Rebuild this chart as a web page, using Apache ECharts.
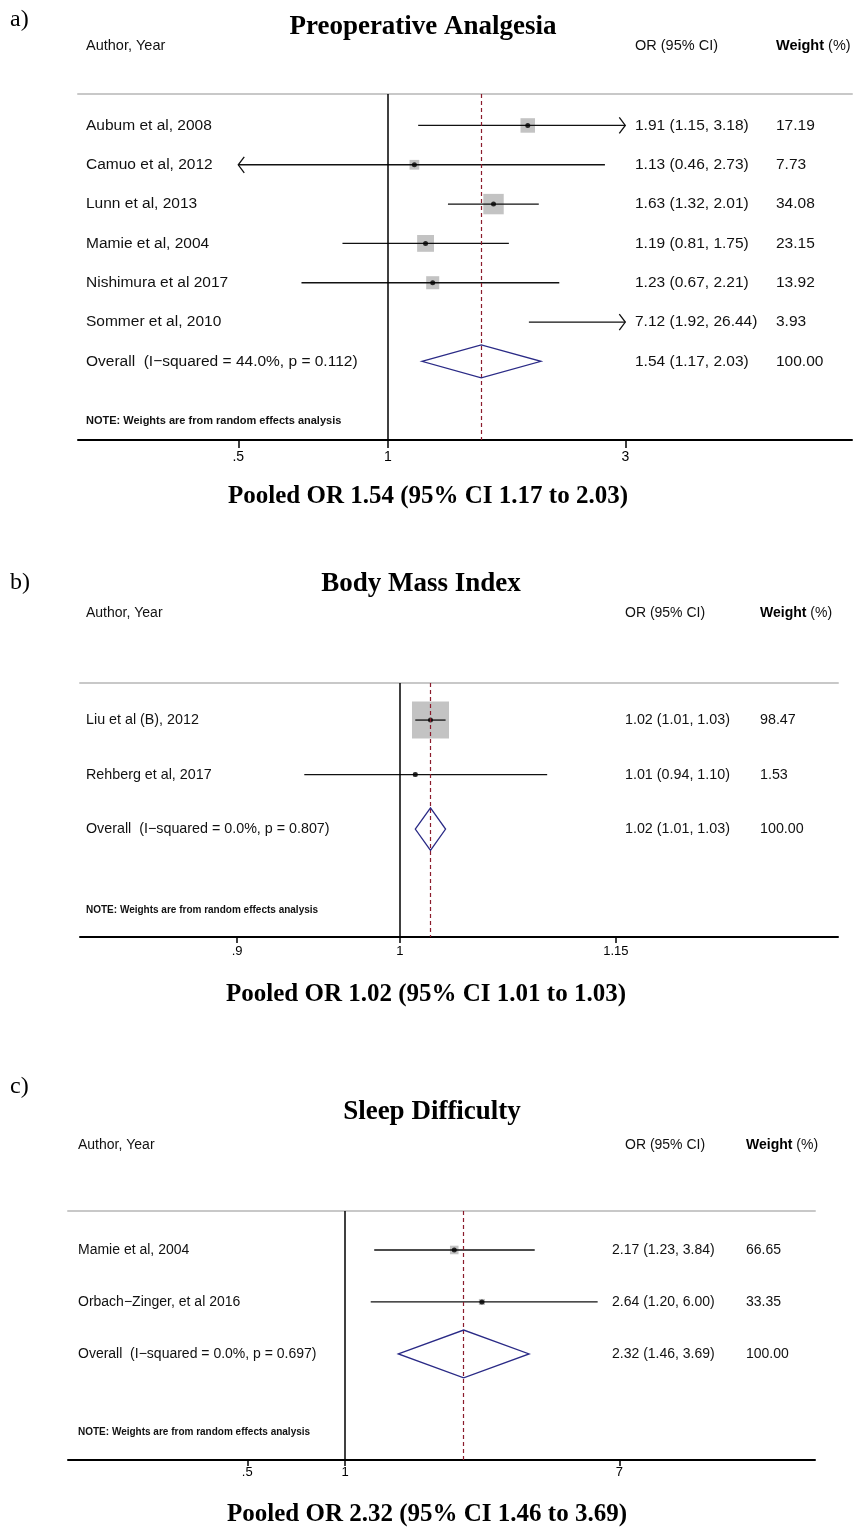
<!DOCTYPE html>
<html><head><meta charset="utf-8">
<script src="https://cdn.jsdelivr.net/npm/echarts@6/dist/echarts.min.js"></script>
<style>html,body{margin:0;padding:0;background:#fff;} #c{width:855px;height:1529px;}</style>
</head><body><div id="c"></div>
<script>
// ---------- Panel a: Preoperative Analgesia ----------
const titleA = 'Preoperative Analgesia';
const studiesA = ['Aubum et al, 2008', 'Camuo et al, 2012', 'Lunn et al, 2013', 'Mamie et al, 2004', 'Nishimura et al 2017', 'Sommer et al, 2010'];
const orA = [1.91, 1.13, 1.63, 1.19, 1.23, 7.12];
const loA = [1.15, 0.46, 1.32, 0.81, 0.67, 1.92];
const hiA = [3.18, 2.73, 2.01, 1.75, 2.21, 26.44];
const wA = [17.19, 7.73, 34.08, 23.15, 13.92, 3.93];
const pooledA = [1.54, 1.17, 2.03];
const hetA = 'Overall  (I\u2212squared = 44.0%, p = 0.112)';
const ticksA = [0.5, 1, 3];
const tickLabelsA = ['.5', '1', '3'];
const summaryA = 'Pooled OR 1.54 (95% CI 1.17 to 2.03)';

// ---------- Panel b: Body Mass Index ----------
const titleB = 'Body Mass Index';
const studiesB = ['Liu et al (B), 2012', 'Rehberg et al, 2017'];
const orB = [1.02, 1.01];
const loB = [1.01, 0.94];
const hiB = [1.03, 1.10];
const wB = [98.47, 1.53];
const pooledB = [1.02, 1.01, 1.03];
const hetB = 'Overall  (I\u2212squared = 0.0%, p = 0.807)';
const ticksB = [0.9, 1, 1.15];
const tickLabelsB = ['.9', '1', '1.15'];
const summaryB = 'Pooled OR 1.02 (95% CI 1.01 to 1.03)';

// ---------- Panel c: Sleep Difficulty ----------
const titleC = 'Sleep Difficulty';
const studiesC = ['Mamie et al, 2004', 'Orbach\u2212Zinger, et al 2016'];
const orC = [2.17, 2.64];
const loC = [1.23, 1.20];
const hiC = [3.84, 6.00];
const wC = [66.65, 33.35];
const pooledC = [2.32, 1.46, 3.69];
const hetC = 'Overall  (I\u2212squared = 0.0%, p = 0.697)';
const ticksC = [0.5, 1, 7];
const tickLabelsC = ['.5', '1', '7'];
const summaryC = 'Pooled OR 2.32 (95% CI 1.46 to 3.69)';

const noteText = 'NOTE: Weights are from random effects analysis';

// ---------- layout (positions / styles only) ----------
const layouts = [
  { letter: 'a)', letterY: 20, grid: {left: 78, top: 94, width: 774, height: 346},
    xMin: 0.2381, xMax: 8.569, yMin: 0.2, yMax: 9.0,
    colLabel: 86, colOr: 635, colW: 776, hdrOr: 635, hdrW: 776, headerY: 46, titleX: 423, titleY: 27,
    sumX: 428, sumY: 497, noteY: 421, noteFs: 11, boxK: 3.5, dHalf: 0.42, fs: 15.5, hfs: 14.5,
    tickLen: 8, labMargin: 10, tfs: 14 },
  { letter: 'b)', letterY: 583, grid: {left: 80, top: 683, width: 758, height: 254},
    xMin: 0.8130, xMax: 1.3278, yMin: 0.32, yMax: 4.98,
    colLabel: 86, colOr: 625, colW: 760, hdrOr: 625, hdrW: 760, headerY: 613, titleX: 421, titleY: 584,
    sumX: 426, sumY: 995, noteY: 910, noteFs: 10, boxK: 3.73, dHalf: 0.39, fs: 14.3, hfs: 14,
    tickLen: 6, labMargin: 8, tfs: 13 },
  { letter: 'c)', letterY: 1087, grid: {left: 68, top: 1211, width: 747, height: 249},
    xMin: 0.1402, xMax: 28.03, yMin: 0.25, yMax: 5.04,
    colLabel: 78, colOr: 612, colW: 746, hdrOr: 625, hdrW: 746, headerY: 1145, titleX: 432, titleY: 1112,
    sumX: 427, sumY: 1515, noteY: 1432, noteFs: 10, boxK: 1.05, dHalf: 0.46, fs: 14, hfs: 14,
    tickLen: 6, labMargin: 6, tfs: 13 }
];

const panels = [
  { title: titleA, studies: studiesA, or: orA, lo: loA, hi: hiA, w: wA, pooled: pooledA, het: hetA, ticks: ticksA, tickLabels: tickLabelsA, summary: summaryA },
  { title: titleB, studies: studiesB, or: orB, lo: loB, hi: hiB, w: wB, pooled: pooledB, het: hetB, ticks: ticksB, tickLabels: tickLabelsB, summary: summaryB },
  { title: titleC, studies: studiesC, or: orC, lo: loC, hi: hiC, w: wC, pooled: pooledC, het: hetC, ticks: ticksC, tickLabels: tickLabelsC, summary: summaryC }
];

const SANS = '"Liberation Sans", Arial, sans-serif';
const SERIF = '"Liberation Serif", "Times New Roman", serif';
const fmt = v => v.toFixed(2);

const option = { animation: false, backgroundColor: '#fff', grid: [], xAxis: [], yAxis: [], series: [], graphic: [] };

panels.forEach((D, pi) => {
  const L = layouts[pi];
  const clipLo = D.ticks[0], clipHi = D.ticks[D.ticks.length - 1];
  const n = D.studies.length;
  const overallRow = n + 1;

  option.grid.push(Object.assign({}, L.grid));
  const xb = option.xAxis.length;
  option.xAxis.push({
    gridIndex: pi, type: 'log', logBase: 10, min: L.xMin, max: L.xMax, position: 'bottom',
    axisLine: { show: true, onZero: false, lineStyle: { color: '#000', width: 2 } },
    axisTick: { show: true, inside: false, length: L.tickLen, customValues: D.ticks, lineStyle: { color: '#000', width: 1.5 } },
    axisLabel: { show: true, customValues: D.ticks, margin: L.labMargin, fontSize: L.tfs, color: '#000', fontFamily: SANS,
      formatter: v => { const j = D.ticks.findIndex(t => Math.abs(t - v) < 1e-6 * Math.max(1, t)); return j >= 0 ? D.tickLabels[j] : ''; } },
    splitLine: { show: false }, minorTick: { show: false }
  });
  option.xAxis.push({
    gridIndex: pi, type: 'log', logBase: 10, min: L.xMin, max: L.xMax, position: 'top',
    axisLine: { show: true, onZero: false, lineStyle: { color: '#c8c8c8', width: 2 } },
    axisTick: { show: false }, axisLabel: { show: false }, splitLine: { show: false }
  });
  option.yAxis.push({ gridIndex: pi, type: 'value', inverse: true, min: L.yMin, max: L.yMax, show: false });

  const rows = D.studies.map((_, i) => i + 1);
  const inRange = i => D.or[i] >= clipLo && D.or[i] <= clipHi;

  // weight boxes
  option.series.push({
    type: 'scatter', xAxisIndex: xb, yAxisIndex: pi, symbol: 'rect',
    data: rows.filter((r, i) => inRange(i)).map(r => [D.or[r - 1], r, D.w[r - 1]]),
    symbolSize: v => L.boxK * Math.sqrt(v[2]),
    itemStyle: { color: '#b4b4b4' }, silent: true, z: 2
  });

  // CI lines (arrows when beyond plotted range)
  option.series.push({
    type: 'custom', xAxisIndex: xb, yAxisIndex: pi, z: 3, silent: true,
    data: rows.map(r => [D.lo[r - 1], D.hi[r - 1], r]),
    encode: { x: [0, 1], y: 2 },
    renderItem: (params, api) => {
      const lo = api.value(0), hi = api.value(1), row = api.value(2);
      const p1 = api.coord([Math.max(lo, clipLo), row]);
      const p2 = api.coord([Math.min(hi, clipHi), row]);
      const st = { stroke: '#111', lineWidth: 1.3, fill: null };
      const ch = [{ type: 'line', shape: { x1: p1[0], y1: p1[1], x2: p2[0], y2: p2[1] }, style: st }];
      if (lo < clipLo) ch.push({ type: 'polyline', shape: { points: [[p1[0] + 6, p1[1] - 8], [p1[0], p1[1]], [p1[0] + 6, p1[1] + 8]] }, style: st });
      if (hi > clipHi) ch.push({ type: 'polyline', shape: { points: [[p2[0] - 6, p2[1] - 8], [p2[0], p2[1]], [p2[0] - 6, p2[1] + 8]] }, style: st });
      return { type: 'group', children: ch };
    }
  });

  // point estimates + reference lines
  option.series.push({
    type: 'scatter', xAxisIndex: xb, yAxisIndex: pi, symbol: 'circle', symbolSize: 5, z: 4, silent: true,
    data: rows.filter((r, i) => inRange(i)).map(r => [D.or[r - 1], r]),
    itemStyle: { color: '#000' },
    markLine: {
      silent: true, symbol: 'none', label: { show: false }, animation: false,
      data: [
        { xAxis: 1, lineStyle: { color: '#000', type: 'solid', width: 1.5 } },
        { xAxis: D.pooled[0], lineStyle: { color: '#8b1c2c', type: [4, 3], width: 1.2 } }
      ]
    }
  });

  // pooled diamond
  option.series.push({
    type: 'custom', xAxisIndex: xb, yAxisIndex: pi, z: 5, silent: true,
    data: [[D.pooled[1], D.pooled[0], D.pooled[2], overallRow]],
    encode: { x: [0, 1, 2], y: 3 },
    renderItem: (params, api) => {
      const row = api.value(3);
      const pts = [
        api.coord([api.value(0), row]),
        api.coord([api.value(1), row - L.dHalf]),
        api.coord([api.value(2), row]),
        api.coord([api.value(1), row + L.dHalf])
      ];
      return { type: 'polygon', shape: { points: pts }, style: { stroke: '#2a2a86', lineWidth: 1.3, fill: null } };
    }
  });

  // table text columns
  const labels = D.studies.concat([D.het]);
  const orTexts = D.or.map((v, i) => fmt(v) + ' (' + fmt(D.lo[i]) + ', ' + fmt(D.hi[i]) + ')')
    .concat([fmt(D.pooled[0]) + ' (' + fmt(D.pooled[1]) + ', ' + fmt(D.pooled[2]) + ')']);
  const wTexts = D.w.map(fmt).concat(['100.00']);
  option.series.push({
    type: 'custom', xAxisIndex: xb, yAxisIndex: pi, z: 6, silent: true, clip: false,
    data: labels.map((_, i) => [1, i + 1]),
    encode: { x: 0, y: 1 },
    renderItem: (params, api) => {
      const y = api.coord([1, api.value(1)])[1];
      const k = params.dataIndex;
      const font = L.fs + 'px ' + SANS;
      const t = (x, s) => ({ type: 'text', x: x, y: y, style: { text: s, font: font, fill: '#111', align: 'left', verticalAlign: 'middle' } });
      return { type: 'group', children: [t(L.colLabel, labels[k]), t(L.colOr, orTexts[k]), t(L.colW, wTexts[k])] };
    }
  });

  // titles, headers, notes
  const hf = L.hfs + 'px ' + SANS;
  option.graphic.push(
    { type: 'text', x: 10, y: L.letterY, style: { text: L.letter, font: '24px ' + SERIF, fill: '#000', align: 'left', verticalAlign: 'middle' } },
    { type: 'text', x: L.titleX, y: L.titleY, style: { text: D.title, font: 'bold 27px ' + SERIF, fill: '#000', align: 'center', verticalAlign: 'middle' } },
    { type: 'text', x: L.colLabel, y: L.headerY, style: { text: 'Author, Year', font: hf, fill: '#111', align: 'left', verticalAlign: 'middle' } },
    { type: 'text', x: L.hdrOr, y: L.headerY, style: { text: 'OR (95% CI)', font: hf, fill: '#111', align: 'left', verticalAlign: 'middle' } },
    { type: 'text', x: L.hdrW, y: L.headerY, style: { text: '{b|Weight} (%)', font: hf, fill: '#111', align: 'left', verticalAlign: 'middle',
        rich: { b: { fontWeight: 'bold', fontSize: L.hfs, fontFamily: SANS, fill: '#000' } } } },
    { type: 'text', x: L.colLabel, y: L.noteY, style: { text: noteText, font: 'bold ' + L.noteFs + 'px ' + SANS, fill: '#111', align: 'left', verticalAlign: 'middle' } },
    { type: 'text', x: L.sumX, y: L.sumY, style: { text: D.summary, font: 'bold 25px ' + SERIF, fill: '#000', align: 'center', verticalAlign: 'middle' } }
  );
});

const chart = echarts.init(document.getElementById('c'), null, { renderer: 'canvas', width: 855, height: 1529 });
chart.setOption(option);
</script>
</body></html>
